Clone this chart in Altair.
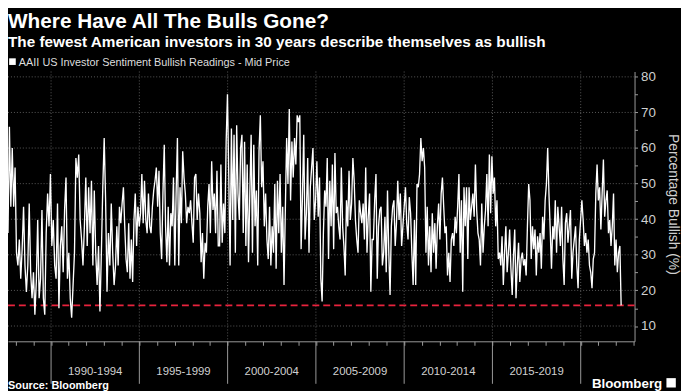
import altair as alt
import numpy as np
import pandas as pd

# ---- data (AAII bullish %, weekly-ish readings) ----
seg_years = [1987.56, 1993.65, 1999.47, 2005.28, 2011.09, 2016.91, 2022.29]

seg1 = [36.1, 66.0, 43.5, 60.0, 43.5, 54.5, 30.6, 27.0, 34.3, 23.3, 31.6, 43.5, 27.0, 19.6, 27.0,
        44.4, 25.1, 17.8, 25.1, 13.2, 22.4, 39.8, 17.8, 23.3, 42.6, 17.8, 13.2, 36.1, 47.2, 38.0,
        52.7, 32.5, 39.8, 27.0, 23.3, 44.4, 15.0, 32.5, 38.0, 25.1, 42.6, 51.7, 23.3, 30.6, 17.8,
        12.3, 21.5, 30.6, 57.2, 51.7, 58.2, 39.8, 34.3, 27.0, 38.0, 51.7, 32.5, 49.0, 36.1, 50.8,
        27.0, 48.1, 30.6, 21.5, 32.5, 14.1, 30.6, 49.0, 62.8, 45.3, 19.6, 36.1, 27.0, 44.4, 30.6,
        21.5, 27.0]
seg2 = [38.0, 27.0, 43.5, 38.9, 44.4, 49.0, 38.0, 28.8, 25.1, 38.9, 23.3, 34.3, 22.4, 39.8, 47.2,
        32.5, 43.5, 38.0, 41.7, 52.7, 38.9, 50.8, 39.8, 36.1, 47.2, 38.0, 36.1, 43.5, 48.1, 50.8,
        54.5, 43.5, 53.6, 36.1, 28.8, 47.2, 60.9, 38.0, 27.9, 43.5, 27.0, 41.7, 38.0, 51.7, 27.0,
        47.2, 62.8, 27.0, 49.0, 38.9, 59.1, 51.7, 47.2, 38.9, 43.5, 41.7, 45.3, 38.9, 33.4, 51.7,
        52.7, 39.8, 47.2, 41.7, 27.9, 36.1, 23.3, 33.4, 30.6, 43.5, 49.9, 36.1, 56.3, 42.6, 47.2,
        36.1, 53.6, 32.5]
seg3 = [32.5, 55.4, 33.4, 44.4, 36.1, 61.8, 75.1, 51.7, 27.0, 65.5, 39.8, 63.7, 30.6, 66.4, 47.2,
        39.8, 60.0, 63.7, 36.1, 61.8, 32.5, 55.4, 27.9, 47.2, 63.7, 30.6, 60.9, 38.0, 48.1, 27.0,
        59.1, 69.2, 49.0, 56.3, 38.0, 47.2, 34.3, 28.8, 43.5, 27.0, 38.0, 30.6, 49.9, 26.1, 50.8,
        36.1, 52.7, 30.6, 43.5, 21.5, 42.6, 62.8, 49.9, 71.0, 45.3, 61.8, 51.7, 62.8, 55.4, 69.2,
        67.3, 69.2, 31.6, 46.2, 63.7, 34.3, 41.7, 57.2, 30.6, 49.0, 54.5, 60.0, 39.8, 45.3, 56.3,
        40.7, 51.7, 23.3]
seg4 = [16.9, 36.1, 48.1, 43.5, 57.2, 28.8, 50.8, 38.0, 55.4, 31.6, 58.6, 41.7, 43.5, 38.0, 34.3,
        54.5, 38.0, 32.5, 24.2, 45.3, 38.0, 53.6, 39.8, 44.4, 57.2, 50.8, 39.8, 34.3, 30.6, 45.3,
        41.7, 38.9, 44.4, 34.3, 54.5, 30.6, 40.7, 47.2, 19.6, 34.3, 34.3, 45.3, 52.7, 23.3, 38.0,
        42.6, 43.5, 27.0, 30.6, 40.7, 25.1, 48.1, 30.6, 18.7, 38.0, 43.5, 45.3, 32.5, 38.9, 50.8,
        39.8, 47.2, 32.5, 38.0, 43.5, 49.0, 38.9, 34.3, 46.2, 41.7, 30.6, 21.5, 39.8, 21.5, 49.9,
        49.0, 52.7, 62.8, 56.3, 60.0]
seg5 = [54.5, 30.6, 43.5, 27.0, 38.0, 25.1, 41.7, 30.6, 38.9, 26.1, 38.0, 44.4, 34.3, 47.2, 51.7,
        43.5, 36.1, 38.0, 24.2, 30.6, 22.4, 34.3, 36.1, 32.5, 40.7, 36.1, 43.5, 52.7, 30.6, 45.3,
        19.6, 49.0, 38.0, 49.0, 28.8, 49.0, 39.8, 43.5, 47.2, 40.7, 55.4, 42.6, 36.1, 34.3, 27.0,
        44.4, 30.6, 38.0, 42.6, 52.7, 38.0, 58.2, 41.7, 57.7, 47.2, 51.7, 38.0, 45.3, 28.8, 30.6,
        27.0, 35.2, 21.5, 30.6, 38.0, 25.1, 30.6, 37.1, 26.1, 18.7, 29.7, 37.1, 17.8, 27.0, 33.4,
        22.4, 28.8, 30.6, 27.0, 28.8, 24.2]
seg6 = [38.0, 49.9, 45.3, 28.8, 38.0, 31.6, 37.1, 24.2, 35.2, 30.6, 36.1, 26.1, 40.7, 34.3, 45.3,
        49.9, 60.0, 47.2, 37.1, 26.1, 38.0, 34.3, 45.3, 30.6, 43.5, 38.0, 32.5, 43.5, 28.8, 21.5,
        38.9, 41.7, 33.4, 38.0, 42.6, 23.3, 30.6, 34.3, 38.0, 27.0, 20.6, 34.3, 39.8, 45.3, 39.8,
        32.5, 36.1, 30.6, 34.3, 27.0, 25.1, 20.6, 28.8, 30.6, 47.2, 55.4, 45.3, 49.0, 37.1, 47.2,
        56.8, 40.7, 45.3, 48.1, 36.1, 39.8, 32.5, 38.0, 47.2, 27.0, 34.3, 25.1, 30.6, 32.5, 15.8]

segments = [seg1, seg2, seg3, seg4, seg5, seg6]
latest_low = 15.8

period_starts = [1990, 1995, 2000, 2005, 2010, 2015]
period_labels = ["1990-1994", "1995-1999", "2000-2004", "2005-2009", "2010-2014", "2015-2019"]
boundaries = [1990, 1995, 2000, 2005, 2010, 2015, 2020]
year_ticks = list(range(1988, 2024))
y_ticks = list(range(10, 81, 5))

TITLE = "Where Have All The Bulls Gone?"
SUBTITLE = "The fewest American investors in 30 years describe themselves as bullish"
LEGEND = "AAII US Investor Sentiment Bullish Readings - Mid Price"
SOURCE = "Source: Bloomberg"
BRAND = "Bloomberg"
Y_TITLE = "Percentage Bullish (%)"

# ---- build table ----
rows = []
for i, seg in enumerate(segments):
    a, b = seg_years[i], seg_years[i + 1]
    n = len(seg)
    xs = np.linspace(a, b, n) if i == 0 else np.linspace(a, b, n + 1)[1:]
    rows += [{"year": float(x), "bull": v} for x, v in zip(xs, seg)]
df = pd.DataFrame(rows)

W, H = 634, 273
FONT = "Liberation Sans"
AX = "#9a9a9a"
LBL = "#d0d0d0"
xs_scale = alt.Scale(domain=[1987.56, 2023.05], nice=False, zero=False)
ys_scale = alt.Scale(domain=[5.7, 81.5], nice=False, zero=False)

x_axis = alt.Axis(values=year_ticks, labels=False, grid=False, tickSize=4,
                  tickColor=AX, domainColor=AX, title=None)
y_axis = alt.Axis(orient="right", values=y_ticks,
                  labelExpr="datum.value % 10 == 0 ? datum.label : ''",
                  tickSize=3, tickColor=AX, domainColor=AX,
                  labelColor=LBL, labelFont=FONT, labelFontSize=13.5,
                  labelPadding=3, grid=False,
                  title=Y_TITLE, titleColor=LBL, titleFont=FONT,
                  titleFontSize=14, titleFontWeight="normal", titleAngle=90,
                  titleX=38, titleY=134, titleAlign="center",
                  titleBaseline="middle")

line = alt.Chart(df).mark_line(color="white", strokeWidth=1.35, clip=True).encode(
    x=alt.X("year:Q", scale=xs_scale, axis=x_axis),
    y=alt.Y("bull:Q", scale=ys_scale, axis=y_axis),
)

hgrid = alt.Chart(pd.DataFrame({"g": list(range(10, 81, 10))})).mark_rule(
    color="#5a5a5a", strokeDash=[1, 2], strokeWidth=1).encode(
    y=alt.Y("g:Q", scale=ys_scale, axis=y_axis))

vgrid = alt.Chart(pd.DataFrame({"b": boundaries})).mark_rule(
    color="#5a5a5a", strokeDash=[1, 2], strokeWidth=1).encode(
    x=alt.X("b:Q", scale=xs_scale, axis=x_axis))

long_ticks = alt.Chart(pd.DataFrame({"b": boundaries})).mark_rule(
    color=AX, strokeWidth=1).encode(
    x=alt.X("b:Q", scale=xs_scale, axis=x_axis),
    y=alt.value(H), y2=alt.value(H + 43))

period_df = pd.DataFrame({"mid": [s + 2.5 for s in period_starts], "lab": period_labels})
period_text = alt.Chart(period_df).mark_text(
    color=LBL, font=FONT, fontSize=11.5, baseline="middle", align="center").encode(
    x=alt.X("mid:Q", scale=xs_scale, axis=x_axis), y=alt.value(H + 31), text="lab:N")

red = alt.Chart(pd.DataFrame({"v": [latest_low]})).mark_rule(
    color="#e8233d", strokeDash=[7, 4], strokeWidth=1.8).encode(
    y=alt.Y("v:Q", scale=ys_scale, axis=y_axis))


def txt(s, x, y, size, weight="normal", color="white", align="left", font=FONT):
    return alt.Chart(pd.DataFrame({"t": [s]})).mark_text(
        color=color, fontSize=size, fontWeight=weight, font=font, align=align,
        baseline="alphabetic").encode(x=alt.value(x), y=alt.value(y), text="t:N")


title = txt(TITLE, 0, -44, 21, "bold")
subtitle = txt(SUBTITLE, 0, -25, 15.5, "bold")
legend_sq = alt.Chart(pd.DataFrame({"t": [LEGEND]})).mark_square(
    color="white", size=45, opacity=1).encode(x=alt.value(4.5), y=alt.value(-10))
legend_txt = txt(LEGEND, 11, -6, 11, color="#dddddd")
source = txt(SOURCE, 0, 321, 11, "bold")
brand = txt(BRAND, 662, 320, 13.5, "bold", align="right")
icon = alt.Chart(pd.DataFrame({"t": [BRAND]})).mark_square(
    color="white", size=90, opacity=1).encode(x=alt.value(671), y=alt.value(315))

chart = alt.layer(
    hgrid, vgrid, red, line, long_ticks, period_text,
    title, subtitle, legend_sq, legend_txt, source, brand, icon,
).properties(
    width=W, height=H,
    padding={"left": 0, "top": 62, "right": 47, "bottom": 48},
    autosize=alt.AutoSizeParams(type="none"),
    background="#000000",
).configure_view(stroke=None)

chart.save("out.html", embed_options={"renderer": "svg", "actions": False})
